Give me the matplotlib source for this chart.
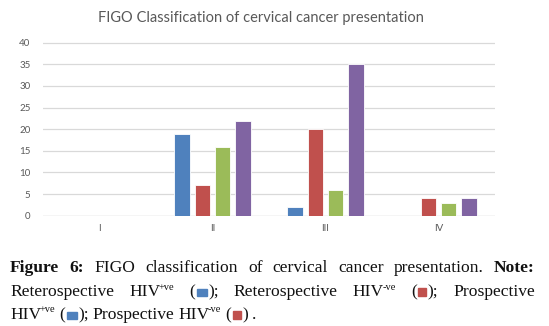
import matplotlib
matplotlib.use("Agg")
import matplotlib.pyplot as plt
from matplotlib.patches import Rectangle
import numpy as np

# data
stages = ['I', 'II', 'III', 'IV']
retro_pos = [0, 19, 2, 0]
retro_neg = [0, 7, 20, 4]
prosp_pos = [0, 16, 6, 3]
prosp_neg = [0, 22, 35, 4]
series = [retro_pos, retro_neg, prosp_pos, prosp_neg]
colors = ['#4F81BD', '#C0504D', '#9BBB59', '#8064A2']
yticks = [0, 5, 10, 15, 20, 25, 30, 35, 40]

W, H = 549, 326
fig = plt.figure(figsize=(W / 100, H / 100), dpi=100)
fig.patch.set_facecolor('white')

# plot area in pixel coords
ax_l, ax_r, y0_px, y40_px = 43, 495, 215.7, 42.7
ymax = 40.4
top_px = y0_px - (y0_px - y40_px) * ymax / 40
ax = fig.add_axes([ax_l / W, (H - y0_px) / H, (ax_r - ax_l) / W, (y0_px - top_px) / H])

x = np.arange(len(stages))
bw, pitch = 0.139, 0.179
for i, (vals, c) in enumerate(zip(series, colors)):
    ax.bar(x + (i - 1.5) * pitch, vals, width=bw, color=c,
           edgecolor='white', linewidth=0.6, zorder=3)

ax.set_xlim(-0.5, 3.5)
ax.set_ylim(0, ymax)
ax.set_yticks(yticks)
ax.set_xticks(x)
ax.set_xticklabels(stages)
ax.grid(axis='y', color='#D9D9D9', linewidth=0.9, zorder=0)
for s in ax.spines.values():
    s.set_visible(False)
ax.axhline(0, color='#D9D9D9', linewidth=0.9, zorder=2)
ax.tick_params(length=0, labelsize=7, labelcolor='#595959', pad=6)
ax.tick_params(axis='y', pad=9)
for lab in ax.get_xticklabels() + ax.get_yticklabels():
    lab.set_family('Lato')

fig.text(0.476, (H - 18) / H, 'FIGO Classification of cervical cancer presentation',
         ha='center', va='center', fontsize=10.5, color='#595959', family='Lato')

# caption, laid out word by word so lines 1-2 can be justified
renderer = fig.canvas.get_renderer()
fs, sup_fs = 12.6, 7.5
txt_col = '#111111'


def piece_width(p):
    kind = p[1]
    if kind == 'box':
        return p[3] + 3
    t = fig.text(0, 0, p[0], fontsize=sup_fs if kind == 'sup' else fs,
                 family='Liberation Serif',
                 weight='bold' if kind == 'bold' else 'normal')
    w = t.get_window_extent(renderer).width
    t.remove()
    if kind == 'sup':
        w -= 1.5
    return w


def draw_line(words, base_y, x0, x1, justify):
    wlens = [sum(piece_width(p) for p in w) for w in words]
    if justify:
        gap = (x1 - x0 - sum(wlens)) / (len(words) - 1)
    else:
        gap = 4.0
    xp = x0
    for w, wl in zip(words, wlens):
        for p in w:
            kind = p[1]
            pw = piece_width(p)
            if kind == 'box':
                bwid, bh = p[3], p[4]
                fig.patches.append(Rectangle(((xp + 1.5) / W, (H - base_y + 0.5) / H),
                                             bwid / W, bh / H, color=p[2],
                                             transform=fig.transFigure, figure=fig))
            else:
                yy = base_y - 6.5 if kind == 'sup' else base_y
                xx = xp - 1.5 if kind == 'sup' else xp
                fig.text(xx / W, (H - yy) / H, p[0],
                         fontsize=sup_fs if kind == 'sup' else fs,
                         family='Liberation Serif', color=txt_col,
                         weight='bold' if kind == 'bold' else 'normal',
                         ha='left', va='baseline')
            xp += pw
        xp += gap


blue, red = colors[0], colors[1]
line1 = [[('Figure', 'bold')], [('6:', 'bold')], [('FIGO', 'n')],
         [('classification', 'n')], [('of', 'n')], [('cervical', 'n')],
         [('cancer', 'n')], [('presentation.', 'n')], [('Note:', 'bold')]]
line2 = [[('Reterospective', 'n')], [('HIV', 'n'), ('+ve', 'sup')],
         [('(', 'n'), ('', 'box', blue, 10, 7), (');', 'n')],
         [('Reterospective', 'n')], [('HIV', 'n'), ('-ve', 'sup')],
         [('(', 'n'), ('', 'box', red, 8, 8), (');', 'n')],
         [('Prospective', 'n')]]
line3 = [[('HIV', 'n'), ('+ve', 'sup')],
         [('(', 'n'), ('', 'box', blue, 10, 7), (');', 'n')],
         [('Prospective', 'n')], [('HIV', 'n'), ('-ve', 'sup')],
         [('(', 'n'), ('', 'box', red, 8, 8), (')', 'n')], [('.', 'n')]]

draw_line(line1, 272, 10, 535, True)
draw_line(line2, 296.5, 10, 535, True)
draw_line(line3, 319, 10, 535, False)

fig.savefig('out.png', dpi=100)
